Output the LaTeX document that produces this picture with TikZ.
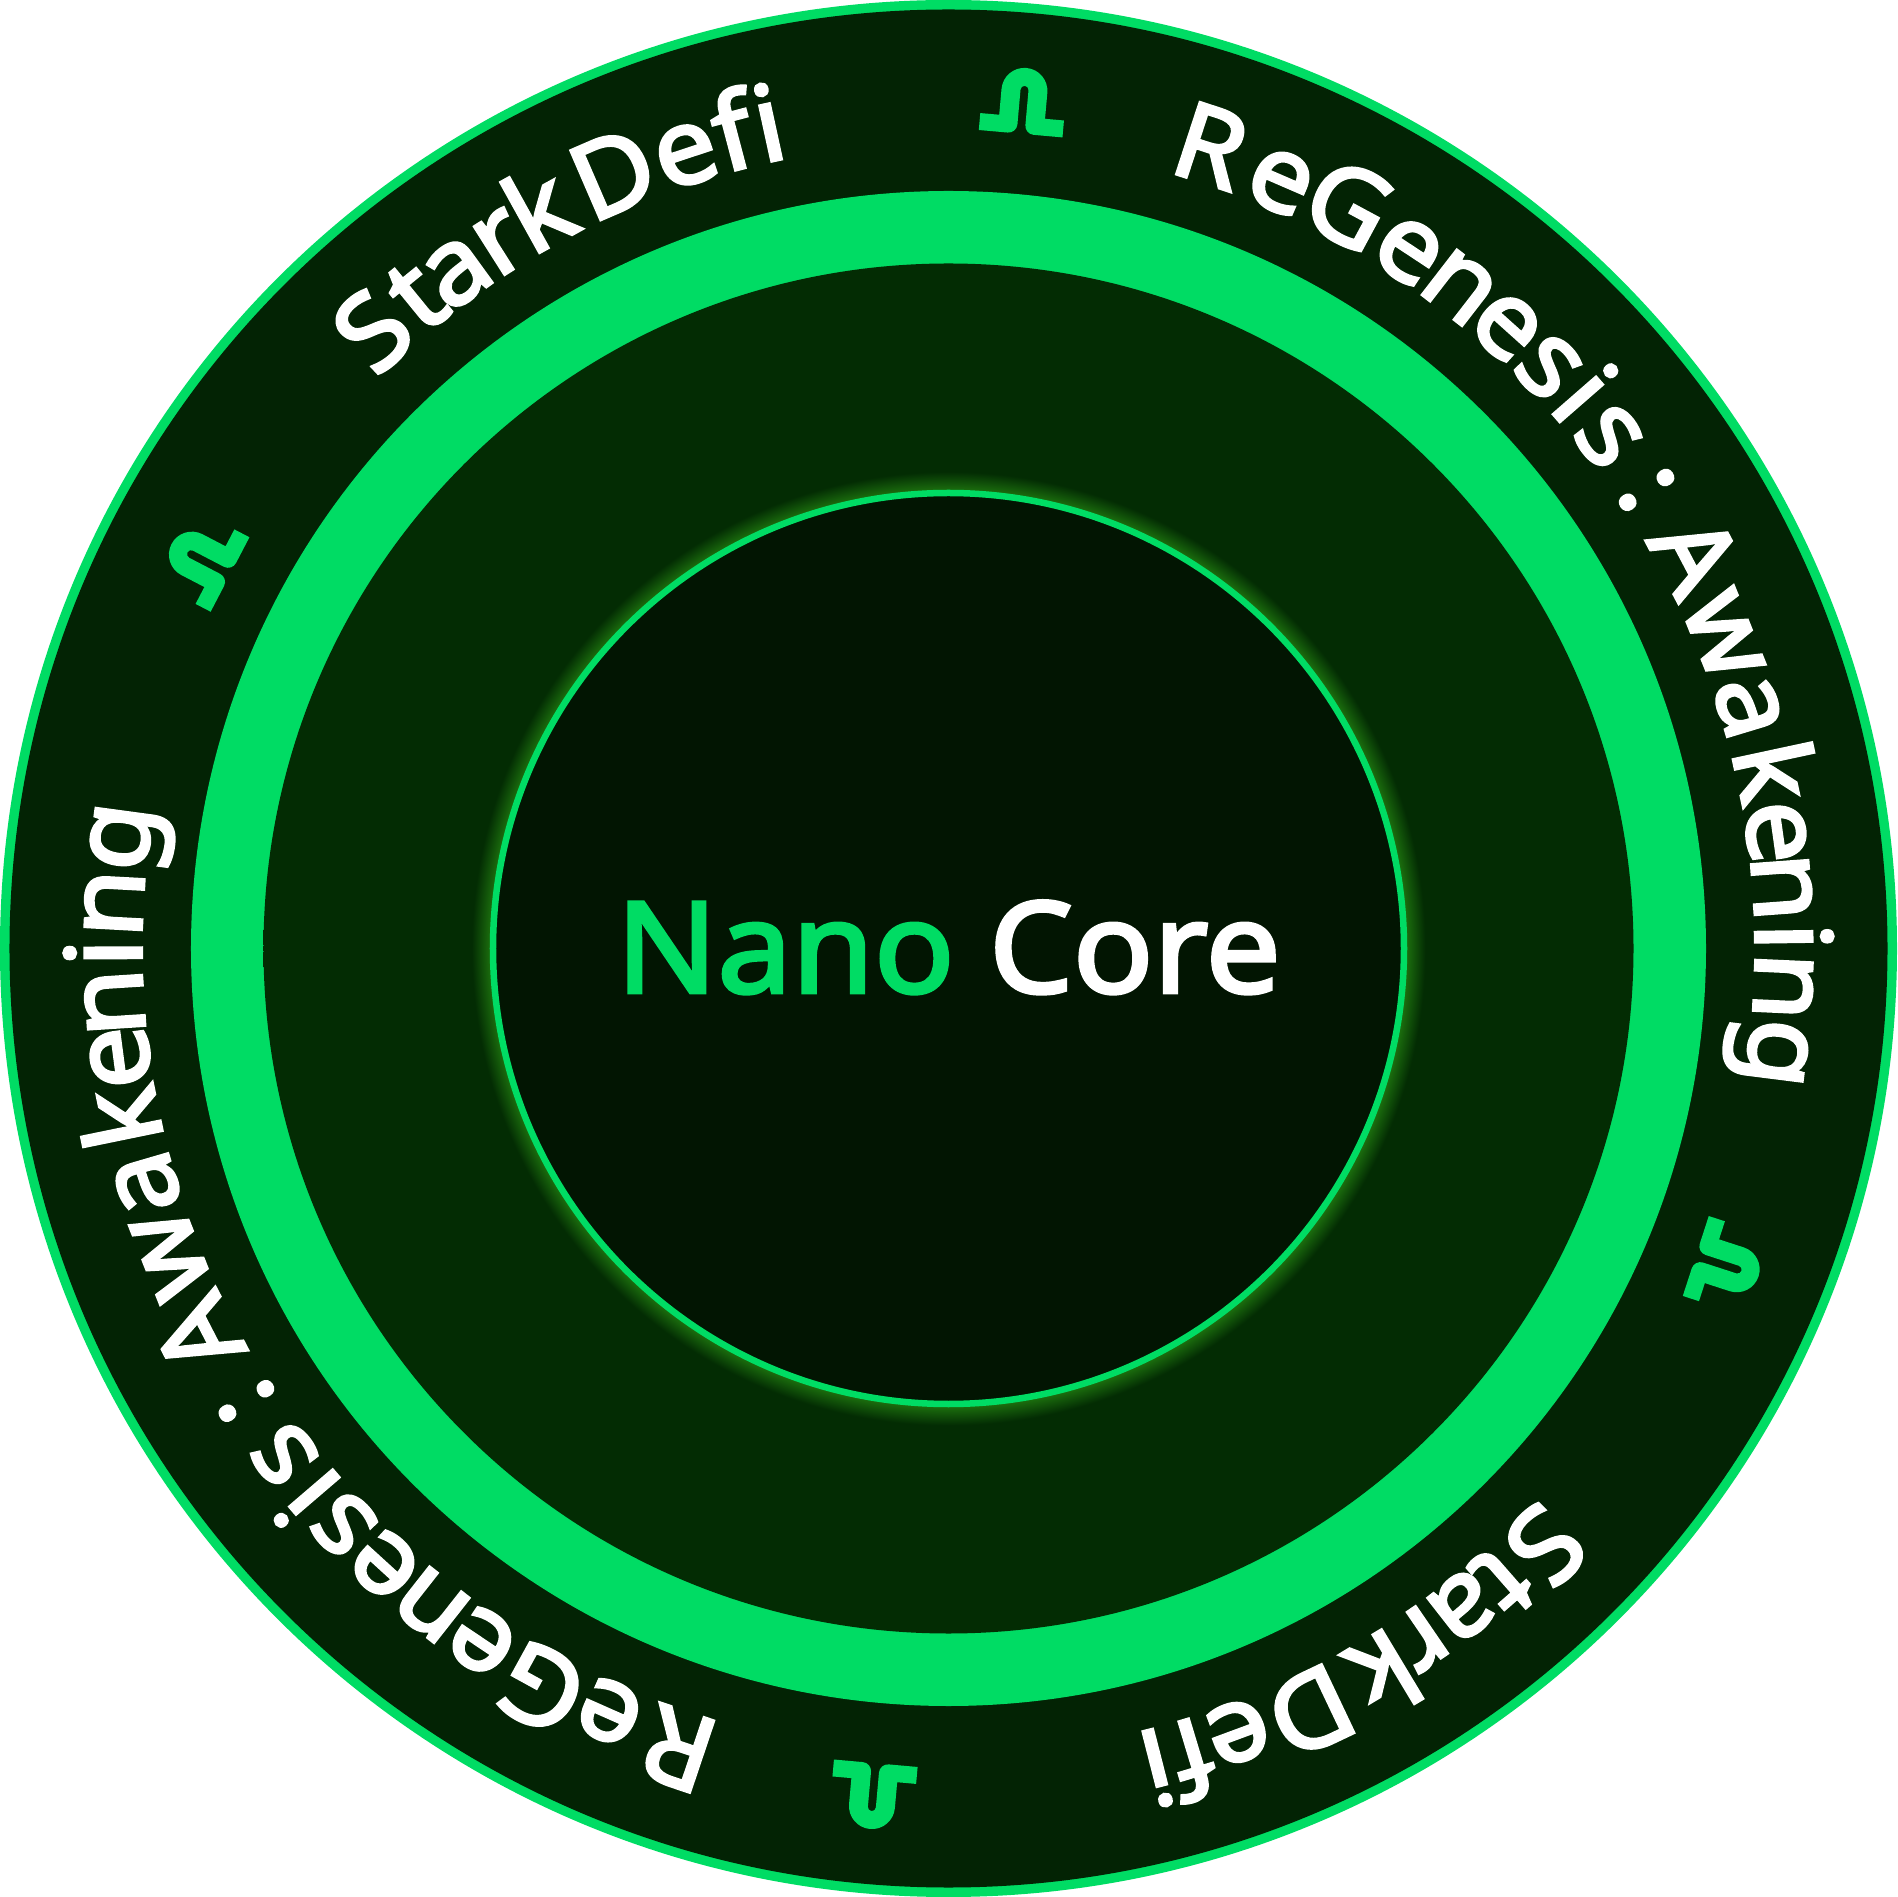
\documentclass[tikz,border=0pt]{standalone}
\usepackage{fontspec}
\setmainfont{Noto Sans}[FakeBold=3,FakeStretch=1.05]
\definecolor{nanogreen}{HTML}{00DC64}
\definecolor{bandgreen}{HTML}{032C03}
\definecolor{rimgreen}{HTML}{032304}
\definecolor{coregreen}{HTML}{021502}
\definecolor{glowgreen}{HTML}{1C700E}
\pgfdeclareradialshading{coreglow}{\pgfpoint{0bp}{0bp}}{
	color(0bp)=(glowgreen);
	color(16.7bp)=(glowgreen);
	color(17.4bp)=(bandgreen);
	color(50bp)=(bandgreen)}
\tikzset{
%Define style for letters on the ring
letter/.style={
	anchor=base,
	inner sep=0pt,
	text=white,
	font=\fontsize{30}{30}\selectfont},
%Define style for the title
title/.style={
	inner sep=0pt,
	anchor=base,
	text=white,
	font=\fontsize{36}{40}\selectfont},
%Define the small logo
logo/.pic={
	\fill[nanogreen] (-.42,-.32) -- (-.42,-.15) -- (-.23,-.15) -- (-.23,.11)
		arc[start angle=180,end angle=0,radius=.23] -- (.23,-.15) -- (.42,-.15) -- (.42,-.32) -- (.13,-.32)
		arc[start angle=270,end angle=180,radius=.09] -- (.04,.12)
		arc[start angle=0,end angle=180,radius=.04] -- (-.04,-.23)
		arc[start angle=360,end angle=270,radius=.09] -- cycle;}
}
\begin{document}
\begin{tikzpicture}
	\useasboundingbox (-9.485,-9.485) rectangle (9.485,9.485);
	% rings
	\fill[nanogreen] (0,0) circle (9.485);
	\fill[rimgreen] (0,0) circle (9.39);
	\fill[nanogreen] (0,0) circle (7.575);
	\shade[shading=coreglow] (0,0) circle (6.85);
	\fill[coregreen, draw=nanogreen, line width=.065cm] (0,0) circle (4.555);
	% title
	\node[title] (core) at (0,-.44) {\textcolor{nanogreen}{Nano} Core};
	% words on the ring
	\foreach \rot [count=\w] in {0,178}{
		\foreach \ang/\ch [count=\n] in {-43/S,-39.2/t,-36/a,-32.4/r,-29/k,-23.4/D,-18.3/e,-14.8/f,-12.3/i}{
			\node[letter, rotate=-\ang-\rot] (stark\w-\n) at (90-\ang-\rot:8.07) {\ch};
		}
	}
	\foreach \rot [count=\w] in {0,180.5}{
		\foreach \ang/\ch [count=\n] in {18.1/R,23.4/e,28.3/G,33.4/e,37.7/n,41.9/e,45.9/s,48.9/i,52.2/s,56.7/:,62.2/A,68/w,73.2/a,77.9/k,82/e,85.8/n,89.2/i,92.6/n,97.2/g}{
			\node[letter, rotate=-\ang-\rot] (gen\w-\n) at (90-\ang-\rot:8.07) {\ch};
		}
	}
	% logos
	\foreach \ang/\rad/\tilt in {5.06/8.5/5.06,-62.5/8.42/-62.5,185.1/8.5/185.1,112.2/8.4/108}{
		\pic[rotate=-\tilt] at (90-\ang:\rad) {logo};
	}
\end{tikzpicture}
\end{document}
